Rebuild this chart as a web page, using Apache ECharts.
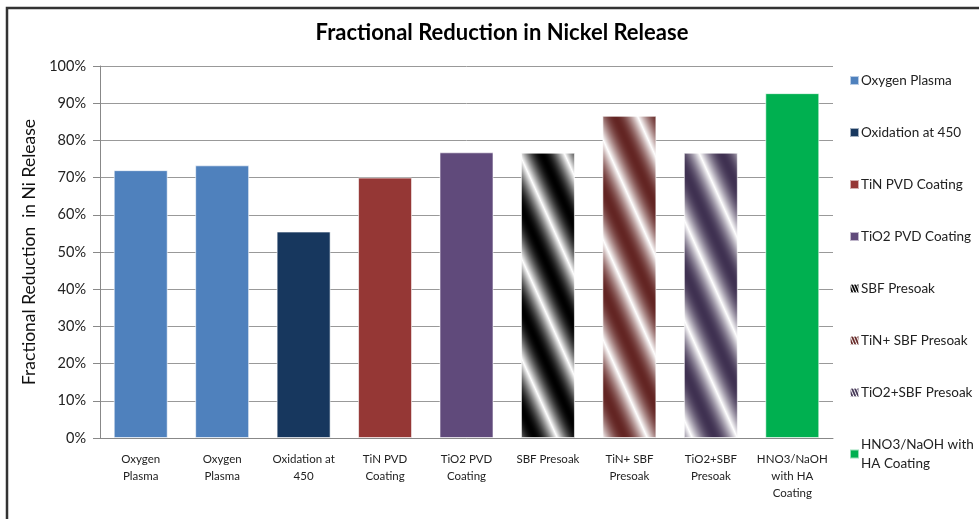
<!DOCTYPE html>
<html>
<head>
<meta charset="utf-8">
<title>Fractional Reduction in Nickel Release</title>
<script src="https://cdn.jsdelivr.net/npm/echarts@6/dist/echarts.min.js"></script>
<style>
html, body {
  margin: 0;
  padding: 0;
  background: #fff;
}
#chart {
  width: 979px;
  height: 519px;
}
</style>
</head>
<body>
<div id="chart"></div>
<script>
// categories on the x axis
var categories = ['Oxygen Plasma', 'Oxygen Plasma', 'Oxidation at 450', 'TiN PVD Coating', 'TiO2 PVD Coating',
  'SBF Presoak', 'TiN+ SBF Presoak', 'TiO2+SBF Presoak', 'HNO3/NaOH with HA Coating']
// tick labels as drawn under the bars
var tickLabels = ['Oxygen\nPlasma', 'Oxygen\nPlasma', 'Oxidation at\n450', 'TiN PVD\nCoating', 'TiO2 PVD\nCoating',
  'SBF Presoak', 'TiN+ SBF\nPresoak', 'TiO2+SBF\nPresoak', 'HNO3/NaOH\nwith HA\nCoating']
// fractional reduction (%)
var values = [72.0, 73.3, 55.5, 70.0, 76.8, 76.7, 86.6, 76.7, 92.7]
// legend entries (one per series) and the series each bar belongs to
var seriesNames = ['Oxygen Plasma', 'Oxidation at 450', 'TiN PVD Coating', 'TiO2 PVD Coating',
  'SBF Presoak', 'TiN+ SBF Presoak', 'TiO2+SBF Presoak', 'HNO3/NaOH with HA Coating']
var seriesOf = [0, 0, 1, 2, 3, 4, 5, 6, 7]

var FONT = 'Lato'

// diagonal striped gradient tile, like the office "wood/stripe" fill
function stripeTile(r, g, b, w, h) {
  var c = document.createElement('canvas')
  c.width = w
  c.height = h
  var ctx = c.getContext('2d')
  var img = ctx.createImageData(w, h)
  for (var y = 0; y < h; y++) {
    for (var x = 0; x < w; x++) {
      var p = (((x - y * w / h) % w) + w) % w / w
      var k = Math.sin(Math.PI * p)
      var i = (y * w + x) * 4
      img.data[i] = Math.round(255 + (r - 255) * k)
      img.data[i + 1] = Math.round(255 + (g - 255) * k)
      img.data[i + 2] = Math.round(255 + (b - 255) * k)
      img.data[i + 3] = 255
    }
  }
  ctx.putImageData(img, 0, 0)
  return { image: c, repeat: 'repeat' }
}

var solid = ['#4f81bd', '#17375e', '#953735', '#604a7b', null, null, null, '#00b050']
var striped = [null, null, null, null, [0, 0, 0], [99, 37, 35], [63, 49, 81], null]

var series = seriesNames.map(function(name, s) {
  return {
    name: name,
    type: 'bar',
    stack: 'all',
    barWidth: 54,
    itemStyle: {
      color: solid[s] || stripeTile(striped[s][0], striped[s][1], striped[s][2], 45, 100),
      borderColor: 'rgba(255,255,255,0.6)',
      borderWidth: 1
    },
    data: values.map(function(v, j) {
      return seriesOf[j] === s ? v : '-'
    })
  }
})

var legendData = seriesNames.map(function(name, s) {
  var item = { name: name }
  if (striped[s]) {
    item.itemStyle = { color: stripeTile(striped[s][0], striped[s][1], striped[s][2], 3, 7) }
  }
  return item
})

var chart = echarts.init(document.getElementById('chart'))
chart.setOption({
  animation: false,
  backgroundColor: '#fff',
  textStyle: { fontFamily: FONT },
  graphic: [
    {
      type: 'rect',
      shape: { x: 7, y: 8, width: 1000, height: 540 },
      style: { fill: 'none', stroke: '#333', lineWidth: 2.5 },
      silent: true
    }
  ],
  title: {
    text: 'Fractional Reduction in Nickel Release',
    left: 497,
    textAlign: 'center',
    top: 17,
    textStyle: { fontFamily: FONT, fontSize: 22, fontWeight: 'bold', color: '#000' }
  },
  legend: {
    orient: 'vertical',
    left: 844,
    top: 66,
    itemGap: 33,
    itemWidth: 9,
    itemHeight: 9,
    icon: 'rect',
    data: legendData,
    formatter: function(n) {
      return n === 'HNO3/NaOH with HA Coating' ? 'HNO3/NaOH with\nHA Coating' : n
    },
    textStyle: { fontFamily: FONT, fontSize: 13.5, color: '#222', padding: [0, 0, 0, -3], lineHeight: 19 }
  },
  grid: {
    left: 100,
    right: 146,
    top: 66,
    bottom: 81
  },
  xAxis: {
    type: 'category',
    data: categories,
    axisLine: { lineStyle: { color: '#888' } },
    axisTick: { show: false },
    axisLabel: {
      interval: 0,
      margin: 13,
      fontFamily: FONT,
      fontSize: 11.5,
      lineHeight: 17,
      color: '#222',
      formatter: function(v, i) { return tickLabels[i] }
    }
  },
  yAxis: {
    type: 'value',
    min: 0,
    max: 100,
    interval: 10,
    name: 'Fractional Reduction  in Ni Release',
    nameLocation: 'middle',
    nameGap: 57,
    nameTextStyle: { fontFamily: FONT, fontSize: 17.5, color: '#111' },
    axisLine: { show: true, lineStyle: { color: '#888' } },
    axisTick: { show: true, length: 7, lineStyle: { color: '#888' } },
    splitLine: { lineStyle: { color: '#999' } },
    axisLabel: {
      margin: 14,
      fontFamily: FONT,
      fontSize: 14.5,
      color: '#222',
      formatter: '{value}%'
    }
  },
  series: series
})
</script>
</body>
</html>
